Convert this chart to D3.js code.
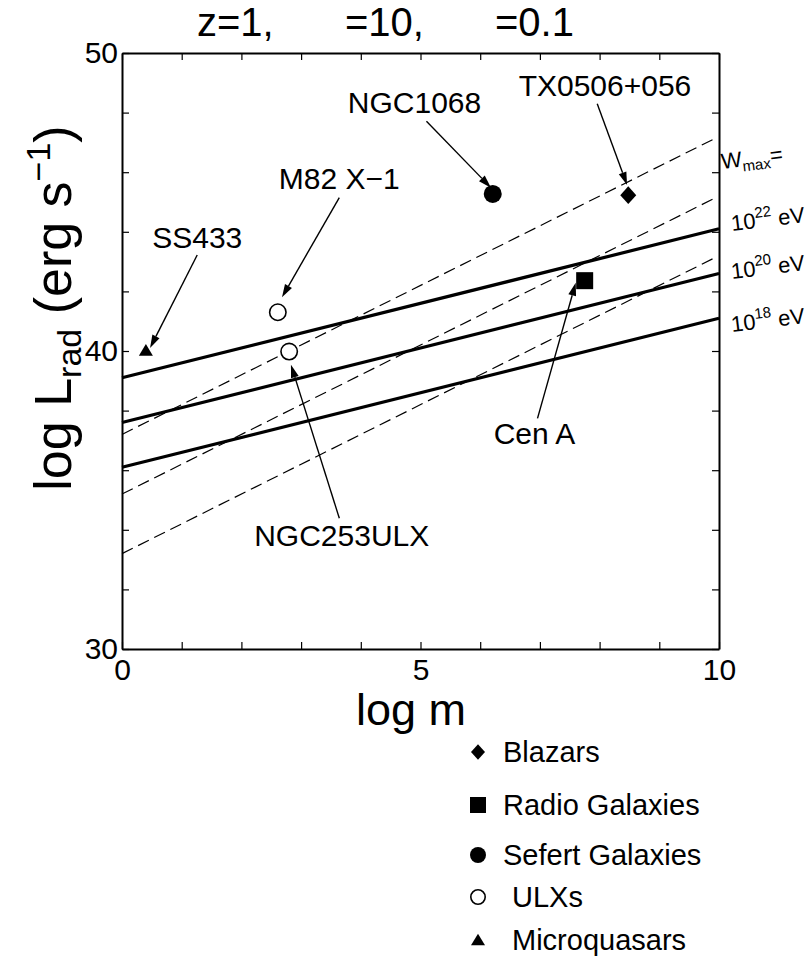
<!DOCTYPE html>
<html>
<head>
<meta charset="utf-8">
<script src="https://cdn.jsdelivr.net/npm/d3@7"></script>
<style>
  html, body { margin: 0; padding: 0; background: #fff; }
  svg { display: block; font-family: "Liberation Sans", Arial, Helvetica, sans-serif; }
</style>
</head>
<body>
<svg id="chart" width="812" height="958"></svg>
<script>
// ---------------- data ----------------
const titleParts = ["z=1,", "=10,", "=0.1"];
const xTickValues = [0, 1, 2, 3, 4, 5, 6, 7, 8, 9, 10];
const xTickLabels = { 0: "0", 5: "5", 10: "10" };
const yTickValues = [30, 32, 34, 36, 38, 40, 42, 44, 46, 48, 50];
const yTickLabels = { 30: "30", 40: "40", 50: "50" };

// solid lines (log m, log L) endpoints, for Wmax = 1e22, 1e20, 1e18 eV
const solidLines = [
  [[0, 39.1], [10, 44.1]],
  [[0, 37.6], [10, 42.6]],
  [[0, 36.1], [10, 41.1]]
];
// dashed lines
const dashedLines = [
  [[0, 37.2], [9.9, 47.1]],
  [[0, 35.2], [9.9, 45.1]],
  [[0, 33.2], [9.9, 43.1]]
];

// sources: name, class, log m, log L
const sourceNames   = ["SS433", "M82 X\u22121", "NGC253ULX", "NGC1068", "TX0506+056", "Cen A"];
const sourceClasses = ["micro", "ulx", "ulx", "seyfert", "blazar", "radio"];
const sourceLogM    = [0.40, 2.61, 2.80, 6.21, 8.48, 7.75];
const sourceLogL    = [40.02, 41.30, 39.98, 45.27, 45.23, 42.36];

// annotation label anchor (log m, log L of text baseline centre) and arrow tail/head
const labelM  = [1.26, 3.64, 3.68, 4.90, 8.09, 6.91];
const labelL  = [43.45, 45.44, 33.46, 48.00, 48.56, 36.88];
const arrowTail = [[1.26, 43.22], [3.64, 45.15], [3.64, 34.39], [5.10, 47.71], [7.96, 48.30], [6.96, 37.74]];
const arrowHead = [[0.47, 40.10], [2.68, 41.80], [2.83, 39.54], [6.18, 45.48], [8.46, 45.57], [7.60, 42.29]];

// right-hand Wmax labels
const wmaxExponents = ["22", "20", "18"];

// legend
const legendLabels  = ["Blazars", "Radio Galaxies", "Sefert Galaxies", "ULXs", "Microquasars"];
const legendClasses = ["blazar", "radio", "seyfert", "ulx", "micro"];

// ---------------- layout ----------------
const svg = d3.select("#chart");
const X0 = 122, X1 = 719, Y0 = 53, Y1 = 649;
const x = d3.scaleLinear().domain([0, 10]).range([X0, X1]);
const y = d3.scaleLinear().domain([30, 50]).range([Y1, Y0]);

// ---------- title ----------
const titleX = [197, 345, 495];
svg.selectAll("text.title").data(titleParts).join("text")
  .attr("class", "title")
  .attr("x", (d, i) => titleX[i]).attr("y", 36)
  .attr("font-size", 40).attr("fill", "#000")
  .text(d => d);

// ---------- axes ----------
const fontTick = 30;
const gB = svg.append("g").attr("transform", `translate(0,${Y1})`)
  .call(d3.axisBottom(x).tickValues(xTickValues).tickSizeInner(-7).tickSizeOuter(0).tickPadding(10)
    .tickFormat(d => xTickLabels[d] || ""));
const gT = svg.append("g").attr("transform", `translate(0,${Y0})`)
  .call(d3.axisTop(x).tickValues(xTickValues).tickSizeInner(-7).tickSizeOuter(0).tickFormat(""));
const gL = svg.append("g").attr("transform", `translate(${X0},0)`)
  .call(d3.axisLeft(y).tickValues(yTickValues).tickSizeInner(-7).tickSizeOuter(0).tickPadding(4)
    .tickFormat(d => yTickLabels[d] || ""));
const gR = svg.append("g").attr("transform", `translate(${X1},0)`)
  .call(d3.axisRight(y).tickValues(yTickValues).tickSizeInner(-7).tickSizeOuter(0).tickFormat(""));
[gB, gT, gL, gR].forEach(g => {
  g.selectAll(".domain").attr("stroke", "#000").attr("stroke-width", 2);
  g.selectAll(".tick line").attr("stroke", "#000").attr("stroke-width", 1.2);
  g.selectAll(".tick text").attr("font-size", fontTick).attr("fill", "#000")
    .attr("font-family", "Liberation Sans, Arial, sans-serif");
});

// axis titles
svg.append("text").attr("x", 411).attr("y", 725).attr("text-anchor", "middle")
  .attr("font-size", 45).attr("fill", "#000").text("log m");

const yt = svg.append("text").attr("transform", "translate(71,308) rotate(-90)")
  .attr("text-anchor", "middle").attr("font-size", 52).attr("fill", "#000");
yt.append("tspan").text("log L");
yt.append("tspan").attr("font-size", 34).attr("dy", 10).text("rad");
yt.append("tspan").attr("dy", -10).text(" (erg s");
yt.append("tspan").attr("font-size", 34).attr("dy", -21).text("\u22121");
yt.append("tspan").attr("dy", 21).text(")");

// ---------- lines ----------
const line = d3.line().x(d => x(d[0])).y(d => y(d[1]));
const plot = svg.append("g");
plot.selectAll("path.dash").data(dashedLines).join("path")
  .attr("class", "dash").attr("d", line)
  .attr("fill", "none").attr("stroke", "#000").attr("stroke-width", 1.2)
  .attr("stroke-dasharray", "12,6");
plot.selectAll("path.solid").data(solidLines).join("path")
  .attr("class", "solid").attr("d", line)
  .attr("fill", "none").attr("stroke", "#000").attr("stroke-width", 3.2);

// ---------- markers ----------
function drawMarker(g, cls, cx, cy, s) {
  const h = s / 2;
  if (cls === "blazar") {
    g.append("path").attr("d", `M${cx},${cy - h * 1.1}L${cx + h},${cy}L${cx},${cy + h * 1.1}L${cx - h},${cy}Z`).attr("fill", "#000");
  } else if (cls === "radio") {
    g.append("rect").attr("x", cx - h).attr("y", cy - h).attr("width", s).attr("height", s).attr("fill", "#000");
  } else if (cls === "seyfert") {
    g.append("circle").attr("cx", cx).attr("cy", cy).attr("r", h).attr("fill", "#000");
  } else if (cls === "ulx") {
    g.append("circle").attr("cx", cx).attr("cy", cy).attr("r", h - 0.8).attr("fill", "#fff")
      .attr("stroke", "#000").attr("stroke-width", 1.6);
  } else if (cls === "micro") {
    g.append("path").attr("d", `M${cx},${cy - h * 0.9}L${cx + h},${cy + h * 0.75}L${cx - h},${cy + h * 0.75}Z`).attr("fill", "#000");
  }
}
const markerSize = { blazar: 16, radio: 17, seyfert: 18, ulx: 18, micro: 14 };
const mk = svg.append("g");
sourceNames.forEach((n, i) => {
  drawMarker(mk, sourceClasses[i], x(sourceLogM[i]), y(sourceLogL[i]), markerSize[sourceClasses[i]]);
});

// ---------- annotations ----------
const ann = svg.append("g");
function arrow(g, x1, y1, x2, y2) {
  const ang = Math.atan2(y2 - y1, x2 - x1);
  const L = 13, W = 4;
  const bx = x2 - L * Math.cos(ang), by = y2 - L * Math.sin(ang);
  g.append("line").attr("x1", x1).attr("y1", y1).attr("x2", bx).attr("y2", by)
    .attr("stroke", "#000").attr("stroke-width", 1.4);
  const px = -Math.sin(ang) * W, py = Math.cos(ang) * W;
  g.append("path").attr("d", `M${x2},${y2}L${bx + px},${by + py}L${bx - px},${by - py}Z`).attr("fill", "#000");
}
sourceNames.forEach((n, i) => {
  ann.append("text").attr("x", x(labelM[i])).attr("y", y(labelL[i]))
    .attr("text-anchor", "middle").attr("font-size", 30).attr("fill", "#000").text(n);
  arrow(ann, x(arrowTail[i][0]), y(arrowTail[i][1]), x(arrowHead[i][0]), y(arrowHead[i][1]));
});

// ---------- Wmax labels ----------
const wl = svg.append("g");
const w0 = wl.append("text").attr("transform", "translate(722,169) rotate(-7)")
  .attr("font-size", 22).attr("fill", "#000");
w0.append("tspan").text("W");
w0.append("tspan").attr("font-size", 15).attr("dy", 5).text("max");
w0.append("tspan").attr("dy", -5).text("=");
const wY = [231, 279, 332];
wmaxExponents.forEach((e, i) => {
  const t = wl.append("text").attr("transform", `translate(732,${wY[i]}) rotate(-7)`)
    .attr("font-size", 22).attr("fill", "#000");
  t.append("tspan").text("10");
  t.append("tspan").attr("font-size", 15).attr("dy", -10).text(e);
  t.append("tspan").attr("dy", 10).text(" eV");
});

// ---------- legend ----------
const legRowY = [752, 805, 855, 897, 940];
const legTextX = [503, 503, 503, 512, 512];
const legSize = { blazar: 14, radio: 16, seyfert: 16, ulx: 16, micro: 14 };
const lg = svg.append("g");
legendLabels.forEach((lab, i) => {
  drawMarker(lg, legendClasses[i], 478, legRowY[i], legSize[legendClasses[i]]);
  lg.append("text").attr("x", legTextX[i]).attr("y", legRowY[i]).attr("dy", "0.36em")
    .attr("font-size", 29).attr("fill", "#000").text(lab);
});
</script>
</body>
</html>
